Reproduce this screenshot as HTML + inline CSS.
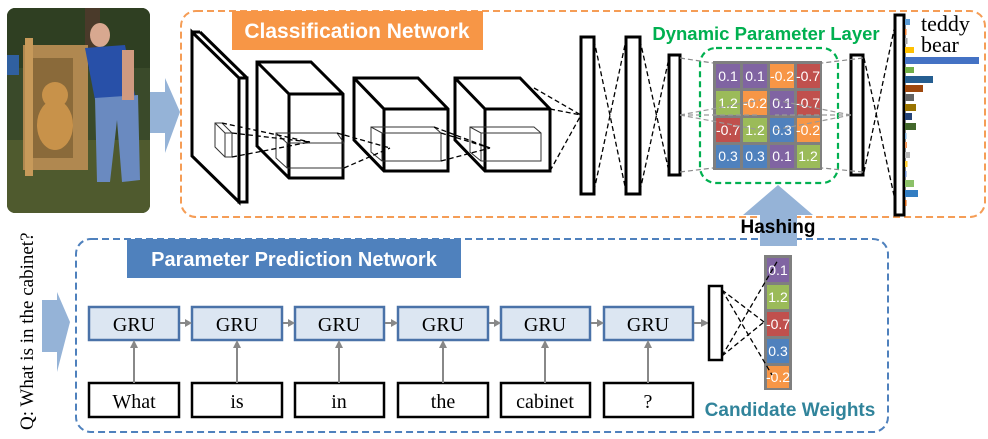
<!DOCTYPE html>
<html><head><meta charset="utf-8"><style>
html,body{margin:0;padding:0;background:#fff;}
svg{display:block;}
</style></head><body>
<svg width="988" height="439" viewBox="0 0 988 439" xmlns="http://www.w3.org/2000/svg" font-family="Liberation Sans, sans-serif">
<defs><clipPath id="ph"><rect x="7" y="8" width="143" height="205" rx="8"/></clipPath></defs>
<g clip-path="url(#ph)">
<rect x="7" y="8" width="143" height="205" fill="#3a4a2a"/>
<rect x="7" y="8" width="143" height="60" fill="#2f3f22"/>
<rect x="85" y="8" width="15" height="40" fill="#4a3a2a"/>
<rect x="7" y="140" width="143" height="73" fill="#4f5a2e"/>
<rect x="7" y="55" width="12" height="20" fill="#3060a0"/>
<rect x="23" y="45" width="65" height="125" fill="#b08850"/>
<rect x="33" y="58" width="40" height="100" fill="#8a6a3a"/>
<ellipse cx="55" cy="95" rx="13" ry="13" fill="#c8924a"/>
<ellipse cx="55" cy="125" rx="18" ry="25" fill="#c8924a"/>
<rect x="25" y="38" width="8" height="138" fill="#c79a5a"/>
<ellipse cx="100" cy="35" rx="10" ry="12" fill="#d8a890"/>
<path d="M85 48 L125 45 L135 95 L95 100 Z" fill="#2850a8"/>
<path d="M95 98 L138 95 L140 180 L122 182 L117 120 L110 182 L97 182 Z" fill="#6a8ac0"/>
<rect x="122" y="50" width="12" height="50" fill="#d09a80"/>
</g>
<path d="M150 92 L165 92 L165 78 L180 112 L165 153 L165 133 L150 133 Z" fill="#95b3d7"/>
<rect x="181" y="11" width="804" height="206" rx="15" fill="none" stroke="#f59d56" stroke-width="2" stroke-dasharray="7,4"/>
<rect x="232" y="11" width="251" height="39" fill="#f79646"/>
<text x="357" y="38" font-size="21" font-weight="bold" fill="#fff" text-anchor="middle">Classification Network</text>
<g stroke="#000" stroke-width="3" fill="#fff" stroke-linejoin="miter">
<polygon points="192,32 239,78 239,202 192,156"/>
<polygon points="239,78 247,78 247,202 239,202"/>
<line x1="192" y1="32" x2="200" y2="32"/><line x1="200" y1="32" x2="247" y2="78"/>
</g>
<g stroke="#000" stroke-width="3" fill="#fff">
<polygon points="257,62 311,62 343,94 343,178 289,178 257,146"/>
<polyline points="257,62 289,94 343,94" fill="none"/><line x1="289" y1="94" x2="289" y2="178"/>
<polygon points="354,78 418,78 448,109 448,171 384,171 354,140"/>
<polyline points="354,78 384,109 448,109" fill="none"/><line x1="384" y1="109" x2="384" y2="171"/>
<polygon points="455,78 520,78 550,109 550,171 485,171 455,140"/>
<polyline points="455,78 485,109 550,109" fill="none"/><line x1="485" y1="109" x2="485" y2="171"/>
</g>
<g stroke="#333" stroke-width="1" fill="none">
<polygon points="215,123 222,123 232,133 232,157 225,157 215,147"/><polyline points="215,123 225,133 232,133"/><line x1="225" y1="133" x2="225" y2="157"/>
<polygon points="276,133 337,133 344,143 344,168 287,168 276,158"/><polyline points="276,133 287,143 344,143"/><line x1="287" y1="143" x2="287" y2="168"/>
<polygon points="371,127 434,127 441,133 441,161 382,161 371,152"/><polyline points="371,127 382,133 441,133"/><line x1="382" y1="133" x2="382" y2="161"/>
<polygon points="470,127 534,127 541,133 541,161 481,161 470,152"/><polyline points="470,127 481,133 541,133"/><line x1="481" y1="133" x2="481" y2="161"/>
</g>
<g stroke="#000" stroke-width="1.3" fill="none" stroke-dasharray="5,3">
<line x1="222" y1="123" x2="310" y2="142"/><line x1="232" y1="157" x2="310" y2="142"/><line x1="232" y1="133" x2="310" y2="142"/>
<line x1="337" y1="133" x2="390" y2="148"/><line x1="344" y1="168" x2="390" y2="148"/>
<line x1="434" y1="127" x2="490" y2="148"/><line x1="441" y1="161" x2="490" y2="148"/><line x1="441" y1="133" x2="490" y2="148"/>
<line x1="534" y1="88" x2="581" y2="115"/><line x1="550" y1="171" x2="581" y2="115"/><line x1="550" y1="109" x2="581" y2="115"/>
<line x1="594" y1="40" x2="626" y2="191"/><line x1="594" y1="191" x2="626" y2="40"/>
<line x1="640" y1="40" x2="669" y2="172"/><line x1="640" y1="191" x2="669" y2="58"/>
<line x1="864" y1="58" x2="895" y2="200"/><line x1="864" y1="172" x2="895" y2="25"/>
</g>
<g stroke="#000" stroke-width="3" fill="#fff">
<rect x="581" y="37" width="13" height="157"/>
<rect x="626" y="37" width="14" height="157"/>
<rect x="669" y="55" width="11" height="120"/>
<rect x="851" y="55" width="12" height="120"/>
<rect x="895" y="15" width="9" height="200"/>
</g>
<rect x="700" y="48" width="138" height="135" rx="16" fill="none" stroke="#00b050" stroke-width="2.2" stroke-dasharray="6,4"/>
<text x="766" y="40" font-size="18.5" font-weight="bold" fill="#00b050" text-anchor="middle">Dynamic Parameter Layer</text>
<g stroke="#888" stroke-width="1.2" stroke-dasharray="5,3">
<line x1="680" y1="58" x2="713" y2="63"/><line x1="680" y1="172" x2="713" y2="168"/>
<line x1="863" y1="58" x2="822" y2="63"/><line x1="863" y1="172" x2="822" y2="168"/>
</g>
<rect x="713" y="61" width="109" height="109" fill="#7f7f7f"/>
<g font-size="14" fill="#fff" text-anchor="middle">
<rect x="716" y="64" width="24" height="24" fill="#8064a2"/><text x="728" y="81">0.1</text>
<rect x="743" y="64" width="24" height="24" fill="#8064a2"/><text x="755" y="81">0.1</text>
<rect x="770" y="64" width="24" height="24" fill="#f79646"/><text x="782" y="81">-0.2</text>
<rect x="797" y="64" width="23" height="24" fill="#c0504d"/><text x="808" y="81">-0.7</text>
<rect x="716" y="91" width="24" height="24" fill="#9bbb59"/><text x="728" y="108">1.2</text>
<rect x="743" y="91" width="24" height="24" fill="#f79646"/><text x="755" y="108">-0.2</text>
<rect x="770" y="91" width="24" height="24" fill="#8064a2"/><text x="782" y="108">0.1</text>
<rect x="797" y="91" width="23" height="24" fill="#c0504d"/><text x="808" y="108">-0.7</text>
<rect x="716" y="118" width="24" height="24" fill="#c0504d"/><text x="728" y="135">-0.7</text>
<rect x="743" y="118" width="24" height="24" fill="#9bbb59"/><text x="755" y="135">1.2</text>
<rect x="770" y="118" width="24" height="24" fill="#4f81bd"/><text x="782" y="135">0.3</text>
<rect x="797" y="118" width="23" height="24" fill="#f79646"/><text x="808" y="135">-0.2</text>
<rect x="716" y="145" width="24" height="23" fill="#4f81bd"/><text x="728" y="161">0.3</text>
<rect x="743" y="145" width="24" height="23" fill="#4f81bd"/><text x="755" y="161">0.3</text>
<rect x="770" y="145" width="24" height="23" fill="#8064a2"/><text x="782" y="161">0.1</text>
<rect x="797" y="145" width="23" height="23" fill="#9bbb59"/><text x="808" y="161">1.2</text>
</g>
<g stroke="#999" stroke-width="1.2" stroke-dasharray="5,3">
<line x1="680" y1="115" x2="760" y2="100"/><line x1="680" y1="115" x2="760" y2="130"/><line x1="680" y1="115" x2="760" y2="115"/>
<line x1="851" y1="115" x2="775" y2="100"/><line x1="851" y1="115" x2="775" y2="130"/><line x1="851" y1="115" x2="775" y2="115"/>
</g>
<g>
<rect x="905" y="19" width="5" height="6" fill="#5b9bd5"/>
<rect x="905" y="29" width="1.5" height="6" fill="#ed7d31"/>
<rect x="905" y="38" width="2.5" height="6" fill="#a5a5a5"/>
<rect x="905" y="47" width="9" height="6" fill="#ffc000"/>
<rect x="905" y="57" width="74" height="7" fill="#4472c4"/>
<rect x="905" y="67" width="9" height="6" fill="#70ad47"/>
<rect x="905" y="76" width="28" height="7" fill="#255e91"/>
<rect x="905" y="85" width="18" height="7" fill="#9e480e"/>
<rect x="905" y="94" width="9" height="7" fill="#636363"/>
<rect x="905" y="104" width="11" height="7" fill="#997300"/>
<rect x="905" y="113" width="7" height="7" fill="#264478"/>
<rect x="905" y="123" width="11" height="7" fill="#43682b"/>
<rect x="905" y="133" width="1.5" height="6" fill="#7cafdd"/>
<rect x="905" y="142" width="2" height="6" fill="#f1975a"/>
<rect x="905" y="152" width="5" height="6" fill="#b7b7b7"/>
<rect x="905" y="161" width="2.5" height="6" fill="#ffcd33"/>
<rect x="905" y="171" width="1.5" height="6" fill="#698ed0"/>
<rect x="905" y="180" width="9" height="7" fill="#8cc168"/>
<rect x="905" y="190" width="13" height="7" fill="#327dc2"/>
<rect x="905" y="200" width="1.5" height="6" fill="#d26012"/>
</g>
<text x="921" y="31" font-family="Liberation Serif, serif" font-size="22">teddy</text>
<text x="921" y="52" font-family="Liberation Serif, serif" font-size="22">bear</text>
<rect x="76" y="239" width="812" height="193" rx="15" fill="none" stroke="#4f81bd" stroke-width="2" stroke-dasharray="7,4"/>
<path d="M778 185 L813 215 L797 215 L797 246 L760 246 L760 215 L743 215 Z" fill="#95b3d7"/>
<text x="778" y="233" font-size="19" font-weight="bold" text-anchor="middle" fill="#000">Hashing</text>
<rect x="127" y="239" width="334" height="39" fill="#4f81bd"/>
<text x="294" y="266" font-size="20" font-weight="bold" fill="#fff" text-anchor="middle">Parameter Prediction Network</text>
<path d="M42 300 L57 300 L57 292 L70 322 L57 372 L57 352 L42 352 Z" fill="#95b3d7"/>
<text transform="translate(33,430) rotate(-90)" font-family="Liberation Serif, serif" font-size="19">Q: What is in the cabinet?</text>
<g font-family="Liberation Serif, serif" font-size="20" text-anchor="middle">
<g stroke="#4a72a8" stroke-width="2.5" fill="#dce6f2">
<rect x="89" y="307" width="90" height="33"/><rect x="192" y="307" width="90" height="33"/><rect x="295" y="307" width="89" height="33"/>
<rect x="398" y="307" width="90" height="33"/><rect x="501" y="307" width="89" height="33"/><rect x="604" y="307" width="89" height="33"/>
</g>
<g stroke="#000" stroke-width="2.5" fill="#fff">
<rect x="89" y="383" width="90" height="34"/><rect x="192" y="383" width="90" height="34"/><rect x="295" y="383" width="89" height="34"/>
<rect x="398" y="383" width="90" height="34"/><rect x="501" y="383" width="89" height="34"/><rect x="604" y="383" width="89" height="34"/>
</g>
<text x="134" y="331">GRU</text><text x="237" y="331">GRU</text><text x="339" y="331">GRU</text>
<text x="443" y="331">GRU</text><text x="545" y="331">GRU</text><text x="648" y="331">GRU</text>
<text x="134" y="408">What</text><text x="237" y="408">is</text><text x="339" y="408">in</text>
<text x="443" y="408">the</text><text x="545" y="408">cabinet</text><text x="648" y="408">?</text>
</g>
<g stroke="#888" stroke-width="2" fill="#888">
<line x1="134" y1="383" x2="134" y2="346"/><line x1="237" y1="383" x2="237" y2="346"/><line x1="339" y1="383" x2="339" y2="346"/>
<line x1="443" y1="383" x2="443" y2="346"/><line x1="545" y1="383" x2="545" y2="346"/><line x1="648" y1="383" x2="648" y2="346"/>
<line x1="180" y1="323" x2="186" y2="323"/><line x1="283" y1="323" x2="289" y2="323"/><line x1="385" y1="323" x2="392" y2="323"/>
<line x1="489" y1="323" x2="495" y2="323"/><line x1="591" y1="323" x2="598" y2="323"/><line x1="694" y1="323" x2="701" y2="323"/>
</g>
<g fill="#888">
<polygon points="134,340 130,348 138,348"/><polygon points="237,340 233,348 241,348"/><polygon points="339,340 335,348 343,348"/>
<polygon points="443,340 439,348 447,348"/><polygon points="545,340 541,348 549,348"/><polygon points="648,340 644,348 652,348"/>
<polygon points="192,323 185,319 185,327"/><polygon points="295,323 288,319 288,327"/><polygon points="398,323 391,319 391,327"/>
<polygon points="501,323 494,319 494,327"/><polygon points="604,323 597,319 597,327"/><polygon points="709,323 701,319 701,327"/>
</g>
<rect x="709" y="286" width="13" height="74" fill="#fff" stroke="#000" stroke-width="2.5"/>
<rect x="764" y="255" width="28" height="135" fill="#7f7f7f"/>
<g font-size="14" fill="#fff" text-anchor="middle">
<rect x="767" y="258" width="22" height="24" fill="#8064a2"/><text x="778" y="275">0.1</text>
<rect x="767" y="285" width="22" height="24" fill="#9bbb59"/><text x="778" y="302">1.2</text>
<rect x="767" y="312" width="22" height="24" fill="#c0504d"/><text x="778" y="329">-0.7</text>
<rect x="767" y="339" width="22" height="24" fill="#4f81bd"/><text x="778" y="356">0.3</text>
<rect x="767" y="366" width="22" height="22" fill="#f79646"/><text x="778" y="382">-0.2</text>
</g>
<g stroke="#000" stroke-width="1.3" stroke-dasharray="5,3">
<line x1="722" y1="290" x2="772" y2="375"/><line x1="722" y1="290" x2="764" y2="322"/>
<line x1="722" y1="356" x2="778" y2="260"/><line x1="722" y1="356" x2="764" y2="322"/>
</g>
<text x="790" y="416" font-size="19" font-weight="bold" fill="#31849b" text-anchor="middle">Candidate Weights</text>
</svg>
</body></html>
